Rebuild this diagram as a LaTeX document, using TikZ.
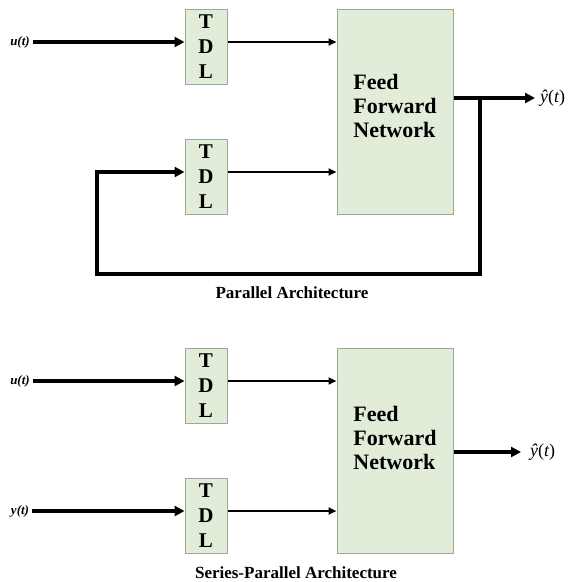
\documentclass[tikz,border=0pt]{standalone}
\usepackage{fontspec}
\setmainfont{Liberation Serif}
\usetikzlibrary{arrows.meta}
\definecolor{boxfill}{HTML}{E2EDD9}
\definecolor{boxline}{HTML}{9DA89A}
\begin{document}
\begin{tikzpicture}[x=1pt,y=-1pt,
  tdlbox/.style={draw=boxline,fill=boxfill,line width=1pt,minimum width=42pt,minimum height=75pt,inner sep=0pt,align=center,font=\fontsize{21}{25}\selectfont\bfseries},
  ffnbox/.style={draw=boxline,fill=boxfill,line width=1pt,minimum width=116pt,minimum height=205pt,inner sep=0pt},
  ffntext/.style={align=left,inner sep=0pt,font=\fontsize{22}{24}\selectfont\bfseries},
  inlabel/.style={inner sep=0pt,font=\fontsize{13}{15}\selectfont\bfseries\itshape},
  outlabel/.style={inner sep=0pt,anchor=west,font=\fontsize{18}{20}\selectfont},
  caption/.style={inner sep=0pt,font=\fontsize{17}{20}\selectfont\bfseries},
  thickarrow/.style={line width=3.2pt,-{Triangle[length=10pt,width=10pt]}},
  thinarrow/.style={line width=2pt,-{Triangle[length=8pt,width=7pt]}},
  thickline/.style={line width=3.2pt}]
\useasboundingbox (0,0) rectangle (579,582);
% ---------- Parallel architecture ----------
\node[tdlbox] (tdl1) at (206,46.5) {T\\D\\L};
\node[tdlbox] (tdl2) at (206,176.5) {T\\D\\L};
\node[ffnbox] (ffn1) at (395,111.5) {};
\node[ffntext] (ffn1t) at (395,106) {Feed\\Forward\\Network};
\node[inlabel] (u1) at (20,42) {u(t)};
\node[outlabel] (yh1) at (540,98) {{\itshape ŷ}({\itshape t})};
\coordinate (j1) at (480,98);
\coordinate (fb1) at (480,274);
\coordinate (fb2) at (97,274);
\coordinate (fb3) at (97,172);
\coordinate (e1) at (535,98);
\draw[thickarrow] ([xshift=3pt]u1.east) -- (tdl1.west |- u1);
\draw[thinarrow] (tdl1.east |- u1) -- (ffn1.west |- u1);
\draw[thinarrow] (tdl2.east |- fb3) -- (ffn1.west |- fb3);
\draw[thickarrow] (ffn1.east |- j1) -- (e1);
\draw[thickline] (j1) -- (fb1) -- (fb2) -- (fb3);
\draw[thickarrow] ([xshift=-1.6pt]fb3) -- (tdl2.west |- fb3);
\node[caption] (cap1) at (292,293) {Parallel Architecture};
% ---------- Series-parallel architecture ----------
\node[tdlbox] (tdl3) at (206,386) {T\\D\\L};
\node[tdlbox] (tdl4) at (206,516) {T\\D\\L};
\node[ffnbox] (ffn2) at (395,450.5) {};
\node[ffntext] (ffn2t) at (395,438) {Feed\\Forward\\Network};
\node[inlabel] (u2) at (20,381) {u(t)};
\node[inlabel] (y2) at (20,511) {y(t)};
\node[outlabel] (yh2) at (530,452) {{\itshape ŷ}({\itshape t})};
\coordinate (e2) at (521,452);
\draw[thickarrow] ([xshift=3pt]u2.east) -- (tdl3.west |- u2);
\draw[thickarrow] ([xshift=3pt]y2.east) -- (tdl4.west |- y2);
\draw[thinarrow] (tdl3.east |- u2) -- (ffn2.west |- u2);
\draw[thinarrow] (tdl4.east |- y2) -- (ffn2.west |- y2);
\draw[thickarrow] (ffn2.east |- e2) -- (e2);
\node[caption] (cap2) at (296,573) {Series-Parallel Architecture};
\end{tikzpicture}
\end{document}
